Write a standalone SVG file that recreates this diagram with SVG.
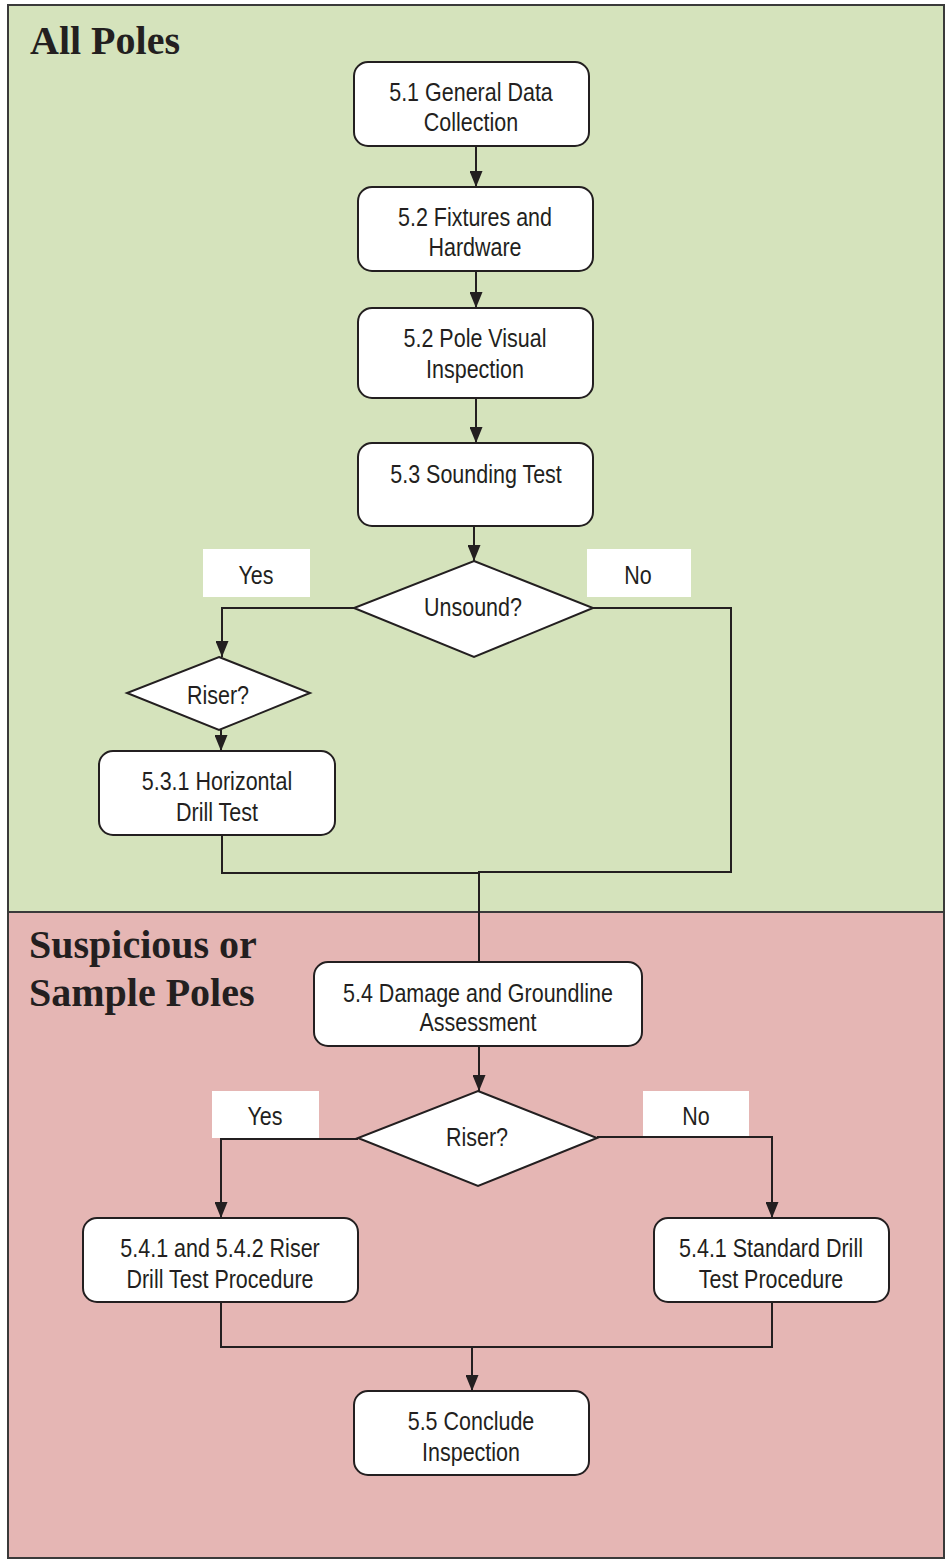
<svg xmlns="http://www.w3.org/2000/svg" width="946" height="1560" viewBox="0 0 946 1560">
<style>
.box{fill:#fff;stroke:#231f20;stroke-width:2}
.lbl{fill:#fff}
.t{font-family:"Liberation Sans",Arial,sans-serif;font-size:25px;fill:#231f20;text-anchor:middle;transform-box:fill-box;transform-origin:center;transform:scaleX(0.86)}
.h{font-family:"Liberation Serif",serif;font-weight:bold;font-size:40px;fill:#231f20}
.ln{fill:none;stroke:#231f20;stroke-width:2}
</style>
<defs>
<marker id="ah" viewBox="0 0 13 16" refX="6.5" refY="16" markerWidth="13" markerHeight="16" markerUnits="userSpaceOnUse" orient="0">
<path d="M0,0 L13,0 L6.5,16 z" fill="#231f20"/>
</marker>
</defs>
<g id="background">
<rect x="8" y="5" width="936" height="907" fill="#d5e3bc" stroke="#3a3a3a" stroke-width="2"/>
<rect x="8" y="912" width="936" height="646" fill="#e5b6b4" stroke="#3a3a3a" stroke-width="2"/>
<text class="h" x="30" y="54">All Poles</text>
<text class="h" x="29" y="958">Suspicious or</text>
<text class="h" x="29" y="1006">Sample Poles</text>
</g>
<g id="labels">
<rect class="lbl" x="203" y="549" width="107" height="48"/>
<text class="t" x="256" y="584">Yes</text>
<rect class="lbl" x="587" y="549" width="104" height="48"/>
<text class="t" x="638" y="584">No</text>
<rect class="lbl" x="212" y="1091" width="107" height="47"/>
<text class="t" x="265" y="1125">Yes</text>
<rect class="lbl" x="643" y="1091" width="106" height="46"/>
<text class="t" x="696" y="1125">No</text>
</g>
<g id="connectors">
<line class="ln" x1="476" y1="146" x2="476" y2="187" marker-end="url(#ah)"/>
<line class="ln" x1="476" y1="271" x2="476" y2="308" marker-end="url(#ah)"/>
<line class="ln" x1="476" y1="398" x2="476" y2="443" marker-end="url(#ah)"/>
<line class="ln" x1="474" y1="526" x2="474" y2="561" marker-end="url(#ah)"/>
<polyline class="ln" points="354,608 222,608 222,657" marker-end="url(#ah)"/>
<line class="ln" x1="221" y1="730" x2="221" y2="751" marker-end="url(#ah)"/>
<polyline class="ln" points="222,835 222,873 479,873"/>
<polyline class="ln" points="593,608 731,608 731,872 479,872 479,962"/>
<line class="ln" x1="479" y1="1046" x2="479" y2="1091" marker-end="url(#ah)"/>
<polyline class="ln" points="358,1139 221,1139 221,1218" marker-end="url(#ah)"/>
<polyline class="ln" points="597,1137 772,1137 772,1218" marker-end="url(#ah)"/>
<polyline class="ln" points="221,1302 221,1347 772,1347 772,1302"/>
<line class="ln" x1="472" y1="1347" x2="472" y2="1391" marker-end="url(#ah)"/>
</g>
<g id="n51">
<rect class="box" x="354" y="62" width="235" height="84" rx="14"/>
<text class="t" x="471" y="101">5.1 General Data</text>
<text class="t" x="471" y="131">Collection</text>
</g>
<g id="n52a">
<rect class="box" x="358" y="187" width="235" height="84" rx="14"/>
<text class="t" x="475" y="226">5.2 Fixtures and</text>
<text class="t" x="475" y="256">Hardware</text>
</g>
<g id="n52b">
<rect class="box" x="358" y="308" width="235" height="90" rx="14"/>
<text class="t" x="475" y="347">5.2 Pole Visual</text>
<text class="t" x="475" y="378">Inspection</text>
</g>
<g id="n53">
<rect class="box" x="358" y="443" width="235" height="83" rx="14"/>
<text class="t" x="476" y="483">5.3 Sounding Test</text>
</g>
<g id="unsound">
<polygon class="box" points="474,561 593,608 474,657 354,608"/>
<text class="t" x="473" y="616">Unsound?</text>
</g>
<g id="riser1">
<polygon class="box" points="219,657 310,693 219,730 127,693"/>
<text class="t" x="218" y="704">Riser?</text>
</g>
<g id="n531">
<rect class="box" x="99" y="751" width="236" height="84" rx="14"/>
<text class="t" x="217" y="790">5.3.1 Horizontal</text>
<text class="t" x="217" y="821">Drill Test</text>
</g>
<g id="n54">
<rect class="box" x="314" y="962" width="328" height="84" rx="14"/>
<text class="t" x="478" y="1002">5.4 Damage and Groundline</text>
<text class="t" x="478" y="1031">Assessment</text>
</g>
<g id="riser2">
<polygon class="box" points="478,1091 597,1138 478,1186 358,1138"/>
<text class="t" x="477" y="1146">Riser?</text>
</g>
<g id="n5412">
<rect class="box" x="83" y="1218" width="275" height="84" rx="14"/>
<text class="t" x="220" y="1257">5.4.1 and 5.4.2 Riser</text>
<text class="t" x="220" y="1288">Drill Test Procedure</text>
</g>
<g id="n541">
<rect class="box" x="654" y="1218" width="235" height="84" rx="14"/>
<text class="t" x="771" y="1257">5.4.1 Standard Drill</text>
<text class="t" x="771" y="1288">Test Procedure</text>
</g>
<g id="n55">
<rect class="box" x="354" y="1391" width="235" height="84" rx="14"/>
<text class="t" x="471" y="1430">5.5 Conclude</text>
<text class="t" x="471" y="1461">Inspection</text>
</g>
</svg>
